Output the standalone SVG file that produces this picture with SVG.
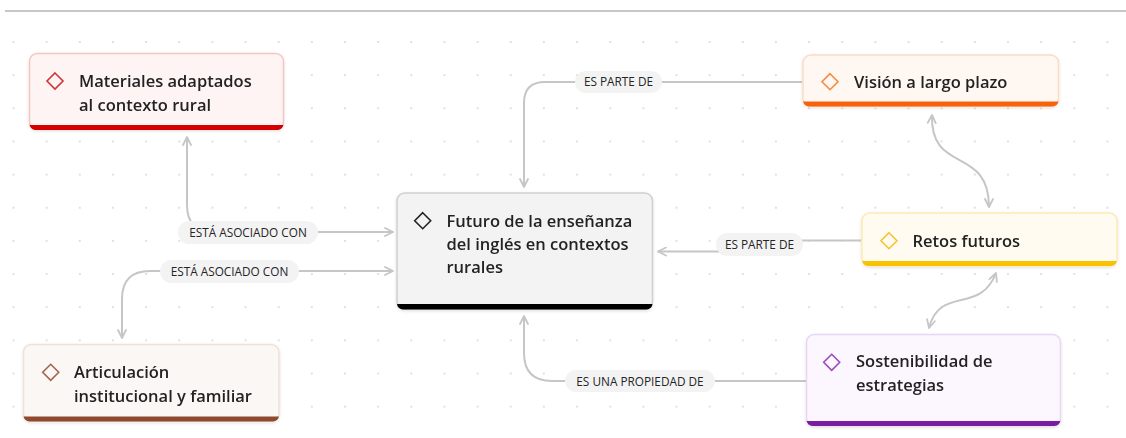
<svg xmlns="http://www.w3.org/2000/svg" width="1126" height="438" viewBox="0 0 1126 438">
<defs>
<pattern id="grid" patternUnits="userSpaceOnUse" x="-3.075" y="25.425" width="33.15" height="33.15">
<circle cx="16.575" cy="16.575" r="1" fill="#d6d6d6"/>
</pattern>
<marker id="arr" viewBox="0 0 10 10" refX="9" refY="5" markerWidth="10" markerHeight="10" markerUnits="userSpaceOnUse" orient="auto-start-reverse">
<path d="M1 1 L9 5 L1 9" fill="none" stroke="#c6c6c6" stroke-width="1.8" stroke-linecap="round" stroke-linejoin="round"/>
</marker>
<filter id="sh" x="-10%" y="-10%" width="120%" height="130%">
<feDropShadow dx="0" dy="1" stdDeviation="1.5" flood-color="#000" flood-opacity="0.12"/>
</filter>
</defs>
<style>
.t{font-family:"Open Sans","Liberation Sans",sans-serif;font-weight:600;font-size:16.5px;fill:#242424}
.l{font-family:"Open Sans","Liberation Sans",sans-serif;font-size:11.8px;fill:#242424;text-anchor:middle}
.pill{fill:#f3f3f3}
.c{fill:none;stroke:#c6c6c6;stroke-width:2}
.dm{fill:none;stroke-width:1.6}
</style>
<rect x="0" y="0" width="1126" height="438" fill="#ffffff"/>
<rect x="0" y="25" width="1126" height="413" fill="url(#grid)"/>
<line x1="5" y1="11" x2="1126" y2="11" stroke="#b4b4b4" stroke-width="1.5"/>

<g id="connectors">
<path class="c" d="M802 82 H545 Q524 82 524 103 V187" marker-end="url(#arr)"/>
<path class="c" d="M861 240.5 H790 L775 251.5 H658" marker-end="url(#arr)"/>
<path class="c" d="M187 137 V205 Q187 232 214 232 H393" marker-start="url(#arr)" marker-end="url(#arr)"/>
<path class="c" d="M393 271 H150 Q122 271 122 299 V338" marker-start="url(#arr)" marker-end="url(#arr)"/>
<path class="c" d="M806 381 H552 Q524 381 524 353 V316" marker-end="url(#arr)"/>
<path class="c" d="M932 115 C930 175 989 145 989 207" marker-start="url(#arr)" marker-end="url(#arr)"/>
<path class="c" d="M996 273 C980 315 940 285 929 328" marker-start="url(#arr)" marker-end="url(#arr)"/>
<rect class="pill" x="575" y="71" width="87" height="22" rx="11"/>
<text class="l" x="618.5" y="86">ES PARTE DE</text>
<rect class="pill" x="716" y="233" width="87" height="23" rx="11.5"/>
<text class="l" x="759.5" y="248.5">ES PARTE DE</text>
<rect class="pill" x="178" y="221" width="140" height="23" rx="11.5"/>
<text class="l" x="248" y="236.5">ESTÁ ASOCIADO CON</text>
<rect class="pill" x="160" y="260" width="139" height="23" rx="11.5"/>
<text class="l" x="229.5" y="275.5">ESTÁ ASOCIADO CON</text>
<rect class="pill" x="565" y="370" width="150" height="22" rx="11"/>
<text class="l" x="640" y="385.5">ES UNA PROPIEDAD DE</text>
</g>

<g id="n-materiales" filter="url(#sh)">
<rect x="29.5" y="53.5" width="254" height="76" rx="8" fill="#fff4f4" stroke="#f7c4c4" stroke-width="1.5"/>
<path d="M29.5 125 H283.5 V123.5 A6 6 0 0 1 277.5 130 H35.5 A6 6 0 0 1 29.5 123.5 Z" fill="#d40000"/>
<path class="dm" d="M55 73 L63 81 L55 89 L47 81 Z" stroke="#d13438"/>
<text class="t" x="79" y="87">Materiales adaptados</text>
<text class="t" x="79" y="110.5">al contexto rural</text>
</g>

<g id="n-futuro" filter="url(#sh)">
<rect x="397" y="193" width="255.5" height="116.5" rx="8" fill="#f3f3f3" stroke="#cfcfcf" stroke-width="1.5"/>
<path d="M397 304 H652.5 V303.5 A6 6 0 0 1 646.5 309.5 H403 A6 6 0 0 1 397 303.5 Z" fill="#000000"/>
<path class="dm" d="M422.7 212.7 L430.7 220.7 L422.7 228.7 L414.7 220.7 Z" stroke="#242424"/>
<text class="t" x="446.5" y="226.5">Futuro de la enseñanza</text>
<text class="t" x="446.5" y="249.5">del inglés en contextos</text>
<text class="t" x="446.5" y="273">rurales</text>
</g>

<g id="n-vision" filter="url(#sh)">
<rect x="803" y="55" width="255.5" height="51.5" rx="8" fill="#fff8f2" stroke="#fddcc4" stroke-width="1.5"/>
<path d="M803 101.5 H1058.5 V100.5 A6 6 0 0 1 1052.5 106.5 H809 A6 6 0 0 1 803 100.5 Z" fill="#f7630c"/>
<path class="dm" d="M830 73.7 L838 81.7 L830 89.7 L822 81.7 Z" stroke="#f7893c"/>
<text class="t" x="854" y="88">Visión a largo plazo</text>
</g>

<g id="n-retos" filter="url(#sh)">
<rect x="862" y="213" width="255" height="53" rx="8" fill="#fffbf0" stroke="#fdebb5" stroke-width="1.5"/>
<path d="M862 261 H1117 V260 A6 6 0 0 1 1111 266 H868 A6 6 0 0 1 862 260 Z" fill="#f8c200"/>
<path class="dm" d="M889 232.7 L897 240.7 L889 248.7 L881 240.7 Z" stroke="#f4c430"/>
<text class="t" x="912.5" y="246.5">Retos futuros</text>
</g>

<g id="n-sostenibilidad" filter="url(#sh)">
<rect x="806.5" y="334.5" width="254" height="91.5" rx="8" fill="#fcf6fe" stroke="#ead6f4" stroke-width="1.5"/>
<path d="M806.5 421 H1060.5 V420 A6 6 0 0 1 1054.5 426 H812.5 A6 6 0 0 1 806.5 420 Z" fill="#7a1ea0"/>
<path class="dm" d="M831.7 354.3 L839.7 362.3 L831.7 370.3 L823.7 362.3 Z" stroke="#9c4bb8"/>
<text class="t" x="856" y="367">Sostenibilidad de</text>
<text class="t" x="856" y="391">estrategias</text>
</g>

<g id="n-articulacion" filter="url(#sh)">
<rect x="23.5" y="344.5" width="255.5" height="77" rx="8" fill="#fbf7f5" stroke="#efe1d9" stroke-width="1.5"/>
<path d="M23.5 416.5 H279 V415.5 A6 6 0 0 1 273 421.5 H29.5 A6 6 0 0 1 23.5 415.5 Z" fill="#8e4a2e"/>
<path class="dm" d="M50.7 364.3 L58.7 372.3 L50.7 380.3 L42.7 372.3 Z" stroke="#a0674f"/>
<text class="t" x="74" y="377.5">Articulación</text>
<text class="t" x="74" y="401.5">institucional y familiar</text>
</g>
</svg>
